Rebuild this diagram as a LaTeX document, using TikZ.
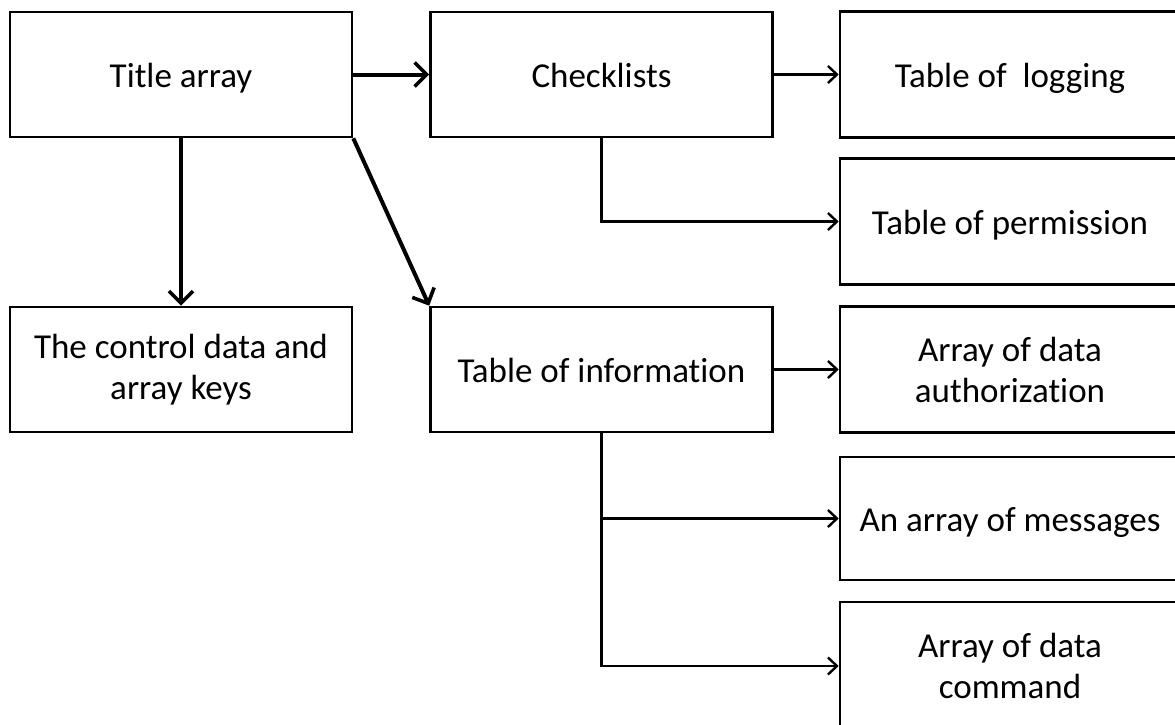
\documentclass[tikz,border=0pt]{standalone}
\usepackage{fontspec}
\setmainfont{Carlito}[Ligatures={NoCommon}]
\usetikzlibrary{arrows.meta}
\begin{document}
\begin{tikzpicture}[x=1pt,y=-1pt,
  box/.style={draw=black,line width=2.6pt,rectangle,inner sep=0pt,align=center,
    font=\fontsize{35}{41}\selectfont},
  oneline/.style={text height=36pt,text depth=10pt},
  lbox/.style={box,minimum width=342pt,minimum height=125pt},
  rbox/.style={box,minimum width=340pt,minimum height=126pt},
  thickarrow/.style={line width=4pt,-{Straight Barb[length=12pt,width=24pt,line width=3.6pt]}},
  thinarrow/.style={line width=2.4pt,-{Straight Barb[length=9pt,width=17pt,line width=2.4pt]}}
]
\useasboundingbox (0,0) rectangle (1175,724);
\clip (0,0) rectangle (1175,724);
% left column
\node[lbox,oneline] (title) at (181,74.5) {Title array};
\node[lbox] (ctrl) at (181,369.5) {The control data and\\array keys};
% middle column
\node[lbox,oneline] (check) at (601.5,74.5) {Checklists};
\node[lbox,oneline] (info) at (601.5,369.5) {Table of information};
% right column
\node[rbox,oneline] (log) at (1010,74.5) {Table of\ \ logging};
\node[rbox,oneline] (perm) at (1010,221.5) {Table of permission};
\node[rbox] (auth) at (1010,369.5) {Array of data\\authorization};
\node[rbox,oneline,minimum height=123pt] (msg) at (1010,518.5) {An array of messages};
\node[rbox,minimum height=128pt] (cmd) at (1010,666) {Array of data\\command};
% connectors
\draw[thickarrow] (title.east) -- (check.west);
\draw[thickarrow] (title.south -| ctrl.north) -- (ctrl.north);
\draw[thickarrow] (title.south east) -- (info.north west);
\draw[thinarrow] (check.east) -- (log.west);
\coordinate (cb) at (check.south);
\draw[thinarrow] (cb) |- (perm.west);
\draw[thinarrow] (info.east) -- (auth.west);
\coordinate (ib) at (info.south);
\draw[thinarrow] (ib) |- (msg.west);
\draw[thinarrow] (ib) |- (cmd.west);
\end{tikzpicture}
\end{document}
